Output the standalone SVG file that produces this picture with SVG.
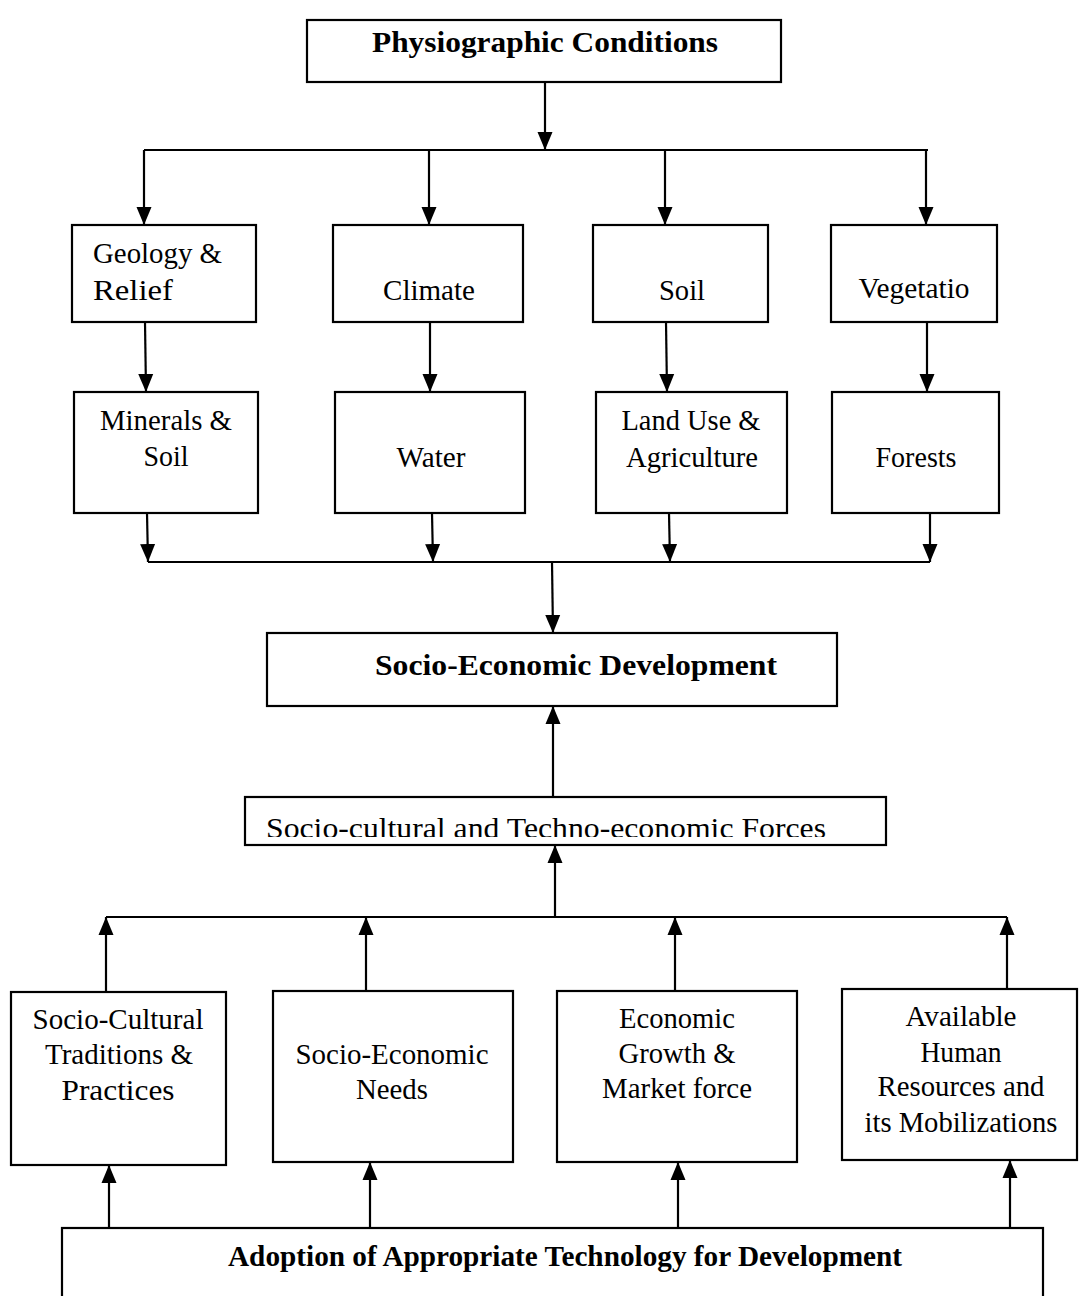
<svg xmlns="http://www.w3.org/2000/svg" width="1080" height="1296" viewBox="0 0 1080 1296">
<style>
.box{fill:#fff;stroke:#000;stroke-width:2.2}
.t{font-family:"Liberation Serif","Times New Roman",serif;font-size:29px;fill:#000;text-anchor:middle}
.b{font-weight:bold;font-size:30px}
.l{text-anchor:start}
.c{fill:none;stroke:#000;stroke-width:2.2}
</style>
<defs>
<marker id="ah" markerUnits="userSpaceOnUse" markerWidth="18" markerHeight="20" viewBox="0 0 18 20" refX="18" refY="10" orient="auto">
<path d="M0,2.5 L18,10 L0,17.5 Z" fill="#000"/>
</marker>
<clipPath id="clipF"><rect x="245" y="797" width="641" height="40"/></clipPath>
</defs>
<rect width="1080" height="1296" fill="#fff"/>

<g id="connectors">
<line class="c" x1="545" y1="82" x2="545" y2="150" marker-end="url(#ah)"/>
<line class="c" x1="144" y1="150" x2="928" y2="150"/>
<line class="c" x1="144" y1="150" x2="144" y2="225" marker-end="url(#ah)"/>
<line class="c" x1="429" y1="150" x2="429" y2="225" marker-end="url(#ah)"/>
<line class="c" x1="665" y1="150" x2="665" y2="225" marker-end="url(#ah)"/>
<line class="c" x1="926" y1="150" x2="926" y2="225" marker-end="url(#ah)"/>
<line class="c" x1="145" y1="322" x2="146" y2="392" marker-end="url(#ah)"/>
<line class="c" x1="430" y1="322" x2="430" y2="392" marker-end="url(#ah)"/>
<line class="c" x1="666" y1="322" x2="667" y2="392" marker-end="url(#ah)"/>
<line class="c" x1="927" y1="322" x2="927" y2="392" marker-end="url(#ah)"/>
<line class="c" x1="147" y1="513" x2="148" y2="562" marker-end="url(#ah)"/>
<line class="c" x1="432" y1="513" x2="433" y2="562" marker-end="url(#ah)"/>
<line class="c" x1="669" y1="513" x2="670" y2="562" marker-end="url(#ah)"/>
<line class="c" x1="930" y1="513" x2="930" y2="562" marker-end="url(#ah)"/>
<line class="c" x1="148" y1="562" x2="930" y2="562"/>
<line class="c" x1="552" y1="562" x2="553" y2="633" marker-end="url(#ah)"/>
<line class="c" x1="553" y1="797" x2="553" y2="706" marker-end="url(#ah)"/>
<line class="c" x1="555" y1="917" x2="555" y2="845" marker-end="url(#ah)"/>
<line class="c" x1="106" y1="917" x2="1007" y2="917"/>
<line class="c" x1="106" y1="992" x2="106" y2="917" marker-end="url(#ah)"/>
<line class="c" x1="366" y1="991" x2="366" y2="917" marker-end="url(#ah)"/>
<line class="c" x1="675" y1="991" x2="675" y2="917" marker-end="url(#ah)"/>
<line class="c" x1="1007" y1="989" x2="1007" y2="917" marker-end="url(#ah)"/>
<line class="c" x1="109" y1="1228" x2="109" y2="1165" marker-end="url(#ah)"/>
<line class="c" x1="370" y1="1228" x2="370" y2="1162" marker-end="url(#ah)"/>
<line class="c" x1="678" y1="1228" x2="678" y2="1162" marker-end="url(#ah)"/>
<line class="c" x1="1010" y1="1228" x2="1010" y2="1160" marker-end="url(#ah)"/>
</g>

<g id="physio">
<rect class="box" x="307" y="20" width="474" height="62"/>
<text class="t b" x="545" y="52" textLength="346" lengthAdjust="spacingAndGlyphs">Physiographic Conditions</text>
</g>
<g id="geology">
<rect class="box" x="72" y="225" width="184" height="97"/>
<text class="t l" x="93" y="263" textLength="129" lengthAdjust="spacingAndGlyphs">Geology &amp;</text>
<text class="t l" x="93" y="300" textLength="80" lengthAdjust="spacingAndGlyphs">Relief</text>
</g>
<g id="climate">
<rect class="box" x="333" y="225" width="190" height="97"/>
<text class="t" x="429" y="300" textLength="92" lengthAdjust="spacingAndGlyphs">Climate</text>
</g>
<g id="soil">
<rect class="box" x="593" y="225" width="175" height="97"/>
<text class="t" x="682" y="300" textLength="46" lengthAdjust="spacingAndGlyphs">Soil</text>
</g>
<g id="vegetation">
<rect class="box" x="831" y="225" width="166" height="97"/>
<text class="t" x="914" y="298" textLength="111" lengthAdjust="spacingAndGlyphs">Vegetatio</text>
</g>
<g id="minerals">
<rect class="box" x="74" y="392" width="184" height="121"/>
<text class="t" x="166" y="430" textLength="132" lengthAdjust="spacingAndGlyphs">Minerals &amp;</text>
<text class="t" x="166" y="466" textLength="45" lengthAdjust="spacingAndGlyphs">Soil</text>
</g>
<g id="water">
<rect class="box" x="335" y="392" width="190" height="121"/>
<text class="t" x="431" y="467" textLength="69" lengthAdjust="spacingAndGlyphs">Water</text>
</g>
<g id="landuse">
<rect class="box" x="596" y="392" width="191" height="121"/>
<text class="t" x="691" y="430" textLength="139" lengthAdjust="spacingAndGlyphs">Land Use &amp;</text>
<text class="t" x="692" y="467" textLength="132" lengthAdjust="spacingAndGlyphs">Agriculture</text>
</g>
<g id="forests">
<rect class="box" x="832" y="392" width="167" height="121"/>
<text class="t" x="916" y="467" textLength="81" lengthAdjust="spacingAndGlyphs">Forests</text>
</g>
<g id="sed">
<rect class="box" x="267" y="633" width="570" height="73"/>
<text class="t b" x="576" y="675" textLength="402" lengthAdjust="spacingAndGlyphs">Socio-Economic Development</text>
</g>
<g id="forces">
<rect class="box" x="245" y="797" width="641" height="48"/>
<text class="t" x="546" y="838" textLength="560" lengthAdjust="spacingAndGlyphs" clip-path="url(#clipF)">Socio-cultural and Techno-economic Forces</text>
</g>
<g id="sociocultural">
<rect class="box" x="11" y="992" width="215" height="173"/>
<text class="t" x="118" y="1029" textLength="171" lengthAdjust="spacingAndGlyphs">Socio-Cultural</text>
<text class="t" x="119" y="1064" textLength="148" lengthAdjust="spacingAndGlyphs">Traditions &amp;</text>
<text class="t" x="118" y="1100" textLength="113" lengthAdjust="spacingAndGlyphs">Practices</text>
</g>
<g id="needs">
<rect class="box" x="273" y="991" width="240" height="171"/>
<text class="t" x="392" y="1064" textLength="193" lengthAdjust="spacingAndGlyphs">Socio-Economic</text>
<text class="t" x="392" y="1099" textLength="72" lengthAdjust="spacingAndGlyphs">Needs</text>
</g>
<g id="economic">
<rect class="box" x="557" y="991" width="240" height="171"/>
<text class="t" x="677" y="1028" textLength="116" lengthAdjust="spacingAndGlyphs">Economic</text>
<text class="t" x="677" y="1063" textLength="117" lengthAdjust="spacingAndGlyphs">Growth &amp;</text>
<text class="t" x="677" y="1098" textLength="150" lengthAdjust="spacingAndGlyphs">Market force</text>
</g>
<g id="human">
<rect class="box" x="842" y="989" width="235" height="171"/>
<text class="t" x="961" y="1026" textLength="111" lengthAdjust="spacingAndGlyphs">Available</text>
<text class="t" x="961" y="1062" textLength="81" lengthAdjust="spacingAndGlyphs">Human</text>
<text class="t" x="961" y="1096" textLength="167" lengthAdjust="spacingAndGlyphs">Resources and</text>
<text class="t" x="961" y="1132" textLength="193" lengthAdjust="spacingAndGlyphs">its Mobilizations</text>
</g>
<g id="adoption">
<rect class="box" x="62" y="1228" width="981" height="100"/>
<text class="t b" x="565" y="1266" textLength="674" lengthAdjust="spacingAndGlyphs">Adoption of Appropriate Technology for Development</text>
</g>
</svg>
